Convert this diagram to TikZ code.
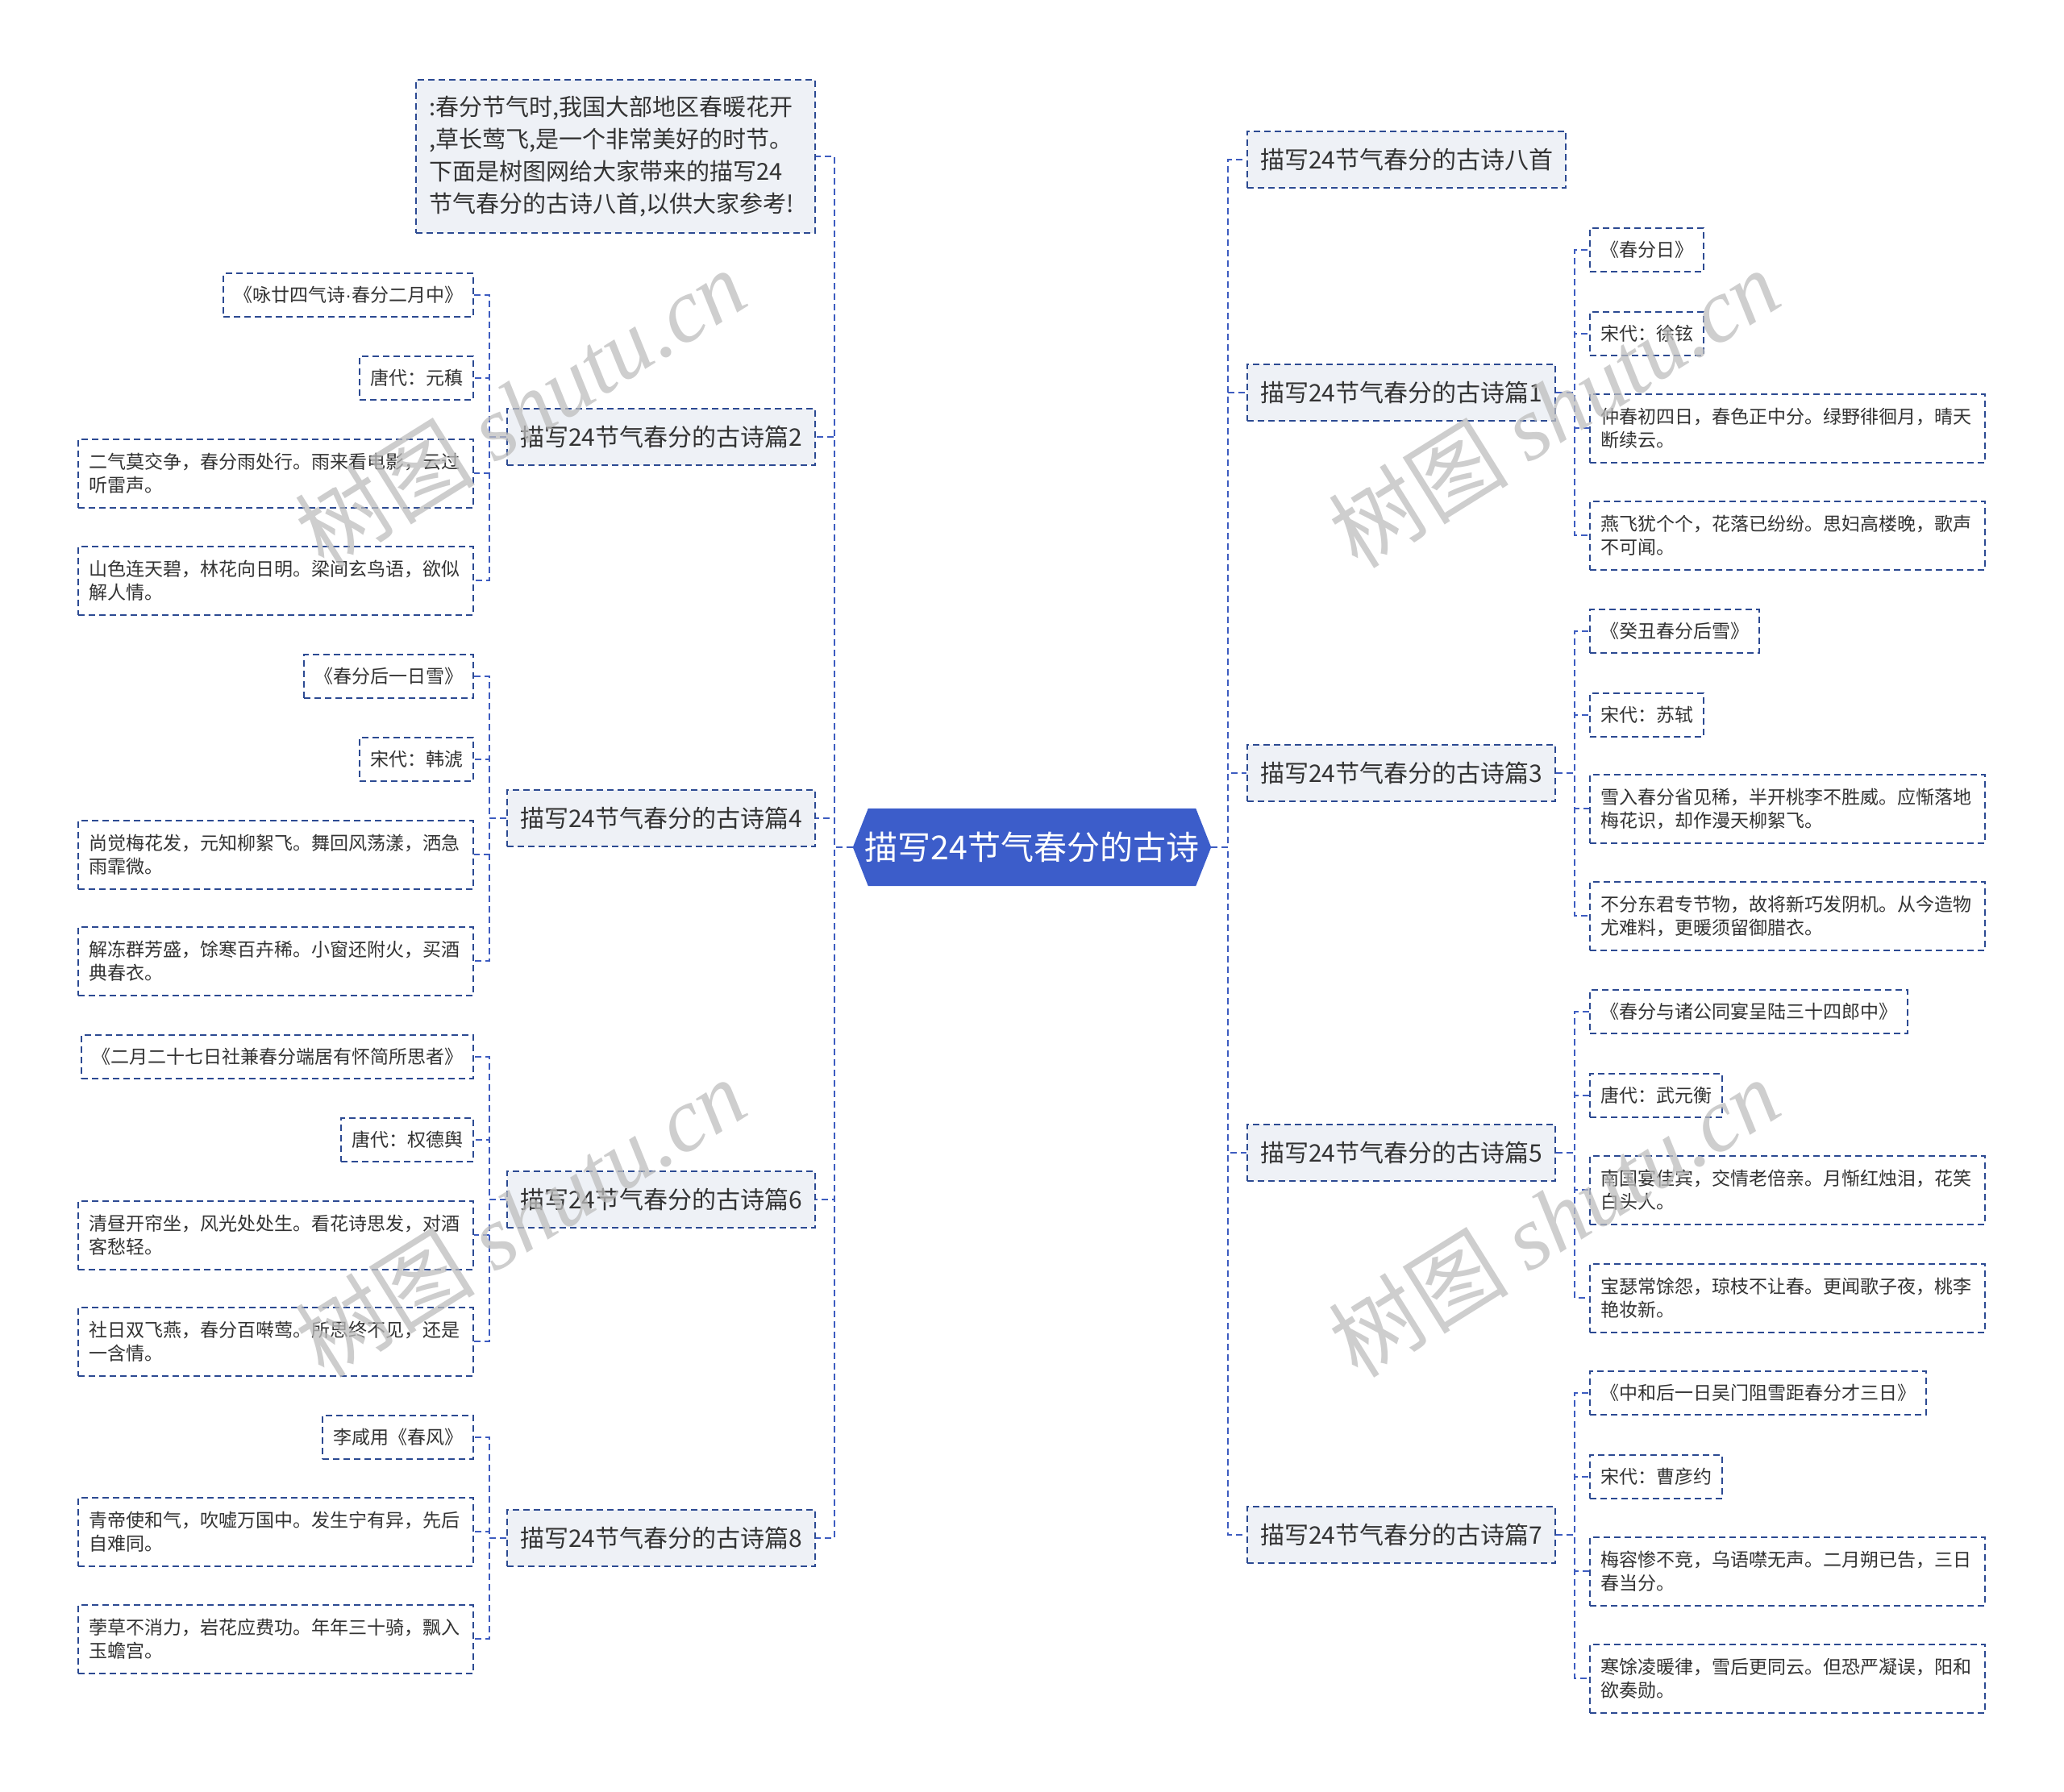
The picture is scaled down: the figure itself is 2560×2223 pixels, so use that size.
\documentclass[tikz,border=0pt]{standalone}
\usepackage{fontspec}
\setmainfont{Noto Sans CJK SC}
\newfontfamily\wmserif{Liberation Serif}
\newfontfamily\dotfont{Liberation Sans}
\usetikzlibrary{backgrounds}
\definecolor{rootblue}{HTML}{3C5DCA}
\definecolor{edgeblue}{HTML}{3D5CC0}
\definecolor{boxblue}{HTML}{2C4A92}
\definecolor{lvfill}{HTML}{EEF1F6}
\definecolor{txt}{HTML}{333333}
\definecolor{wm}{HTML}{BDBDBD}
\tikzset{
  dsh/.style={dash pattern=on 8pt off 5pt, line width=2pt},
  lvone/.style={draw=boxblue, dsh, fill=lvfill, text=txt, font=\fontsize{30}{36}\selectfont, inner xsep=16pt, inner ysep=0pt, minimum height=70pt},
  leaf/.style={draw=boxblue, dsh, fill=white, text=txt, font=\fontsize{23}{29}\selectfont, inner xsep=13pt, inner ysep=0pt, minimum height=54pt},
  poem/.style={leaf, align=left, text width=464pt, minimum height=85pt},
  link/.style={draw=edgeblue, dsh},
  wmark/.style={text=wm, opacity=0.75, rotate=32, font=\fontsize{112}{120}\selectfont},
}
\begin{document}
\begin{tikzpicture}[x=1pt,y=-1pt]
\useasboundingbox (0,0) rectangle (2560,2223);
% root
\node[text=white, font=\fontsize{41}{48}\selectfont, minimum width=444pt, minimum height=96pt, inner sep=0pt] (root) at (1280,1051) {描写24节气春分的古诗};
\begin{scope}[on background layer]
\fill[rootblue] (root.west) -- ([xshift=19pt]root.north west) -- ([xshift=-19pt]root.north east) -- (root.east) -- ([xshift=-19pt]root.south east) -- ([xshift=19pt]root.south west) -- cycle;
\end{scope}
% right level one
\node[lvone, anchor=west] (r0) at (1546,198) {描写24节气春分的古诗八首};
\node[lvone, anchor=west] (r1) at (1546,487) {描写24节气春分的古诗篇1};
\node[lvone, anchor=west] (r3) at (1546,959) {描写24节气春分的古诗篇3};
\node[lvone, anchor=west] (r5) at (1546,1430) {描写24节气春分的古诗篇5};
\node[lvone, anchor=west] (r7) at (1546,1904) {描写24节气春分的古诗篇7};
% left level one
\node[lvone, anchor=east, align=left, text width=463pt, font=\fontsize{29}{40}\selectfont, inner ysep=20pt] (intro) at (1012,194) {:春分节气时,我国大部地区春暖花开\\,草长莺飞,是一个非常美好的时节。\\下面是树图网给大家带来的描写24\\节气春分的古诗八首,以供大家参考!};
\node[lvone, anchor=east] (l2) at (1012,542) {描写24节气春分的古诗篇2};
\node[lvone, anchor=east] (l4) at (1012,1015) {描写24节气春分的古诗篇4};
\node[lvone, anchor=east] (l6) at (1012,1488) {描写24节气春分的古诗篇6};
\node[lvone, anchor=east] (l8) at (1012,1908) {描写24节气春分的古诗篇8};
% right leaves
\node[leaf, anchor=west] (r1a) at (1971,310) {《春分日》};
\node[leaf, anchor=west] (r1b) at (1971,414) {宋代：徐铉};
\node[poem, anchor=west] (r1c) at (1971,531) {仲春初四日，春色正中分。绿野徘徊月，晴天\\断续云。};
\node[poem, anchor=west] (r1d) at (1971,664) {燕飞犹个个，花落已纷纷。思妇高楼晚，歌声\\不可闻。};
\node[leaf, anchor=west] (r3a) at (1971,783) {《癸丑春分后雪》};
\node[leaf, anchor=west] (r3b) at (1971,887) {宋代：苏轼};
\node[poem, anchor=west] (r3c) at (1971,1003) {雪入春分省见稀，半开桃李不胜威。应惭落地\\梅花识，却作漫天柳絮飞。};
\node[poem, anchor=west] (r3d) at (1971,1136) {不分东君专节物，故将新巧发阴机。从今造物\\尤难料，更暖须留御腊衣。};
\node[leaf, anchor=west] (r5a) at (1971,1255) {《春分与诸公同宴呈陆三十四郎中》};
\node[leaf, anchor=west] (r5b) at (1971,1359) {唐代：武元衡};
\node[poem, anchor=west] (r5c) at (1971,1476) {南国宴佳宾，交情老倍亲。月惭红烛泪，花笑\\白头人。};
\node[poem, anchor=west] (r5d) at (1971,1610) {宝瑟常馀怨，琼枝不让春。更闻歌子夜，桃李\\艳妆新。};
\node[leaf, anchor=west] (r7a) at (1971,1728) {《中和后一日吴门阻雪距春分才三日》};
\node[leaf, anchor=west] (r7b) at (1971,1832) {宋代：曹彦约};
\node[poem, anchor=west] (r7c) at (1971,1949) {梅容惨不竞，乌语噤无声。二月朔已告，三日\\春当分。};
\node[poem, anchor=west] (r7d) at (1971,2082) {寒馀凌暖律，雪后更同云。但恐严凝误，阳和\\欲奏勋。};
% left leaves
\node[leaf, anchor=east] (l2a) at (588,366) {《咏廿四气诗{\dotfont ·}春分二月中》};
\node[leaf, anchor=east] (l2b) at (588,469) {唐代：元稹};
\node[poem, anchor=east] (l2c) at (588,587) {二气莫交争，春分雨处行。雨来看电影，云过\\听雷声。};
\node[poem, anchor=east] (l2d) at (588,720) {山色连天碧，林花向日明。梁间玄鸟语，欲似\\解人情。};
\node[leaf, anchor=east] (l4a) at (588,839) {《春分后一日雪》};
\node[leaf, anchor=east] (l4b) at (588,942) {宋代：韩淲};
\node[poem, anchor=east] (l4c) at (588,1060) {尚觉梅花发，元知柳絮飞。舞回风荡漾，洒急\\雨霏微。};
\node[poem, anchor=east] (l4d) at (588,1192) {解冻群芳盛，馀寒百卉稀。小窗还附火，买酒\\典春衣。};
\node[leaf, anchor=east] (l6a) at (588,1311) {《二月二十七日社兼春分端居有怀简所思者》};
\node[leaf, anchor=east] (l6b) at (588,1414) {唐代：权德舆};
\node[poem, anchor=east] (l6c) at (588,1532) {清昼开帘坐，风光处处生。看花诗思发，对酒\\客愁轻。};
\node[poem, anchor=east] (l6d) at (588,1664) {社日双飞燕，春分百啭莺。所思终不见，还是\\一含情。};
\node[leaf, anchor=east] (l8a) at (588,1783) {李咸用《春风》};
\node[poem, anchor=east] (l8b) at (588,1900) {青帝使和气，吹嘘万国中。发生宁有异，先后\\自难同。};
\node[poem, anchor=east] (l8c) at (588,2033) {荸草不消力，岩花应费功。年年三十骑，飘入\\玉蟾宫。};
% connectors root -> level one
\foreach \n in {r0,r1,r3,r5,r7} \draw[link] (root.east) -- ++(21,0) |- (\n.west);
\foreach \n in {intro,l2,l4,l6,l8} \draw[link] (root.west) -- ++(-23,0) |- (\n.east);
% connectors level one -> leaves (right)
\foreach \p/\c in {r1/r1a,r1/r1b,r1/r1c,r1/r1d,r3/r3a,r3/r3b,r3/r3c,r3/r3d,r5/r5a,r5/r5b,r5/r5c,r5/r5d,r7/r7a,r7/r7b,r7/r7c,r7/r7d}
  \draw[link] (\p.east) -- ++(23,0) |- (\c.west);
% connectors level one -> leaves (left)
\foreach \p/\c in {l2/l2a,l2/l2b,l2/l2c,l2/l2d,l4/l4a,l4/l4b,l4/l4c,l4/l4d,l6/l6a,l6/l6b,l6/l6c,l6/l6d,l8/l8a,l8/l8b,l8/l8c}
  \draw[link] (\p.west) -- ++(-21,0) |- (\c.east);
% watermarks
\node[wmark] (w1) at (645,506) {树图 {\wmserif\itshape shutu.cn}};
\node[wmark] (w2) at (645,1510) {树图 {\wmserif\itshape shutu.cn}};
\node[wmark] (w3) at (1927,506) {树图 {\wmserif\itshape shutu.cn}};
\node[wmark] (w4) at (1927,1510) {树图 {\wmserif\itshape shutu.cn}};
\end{tikzpicture}
\end{document}
